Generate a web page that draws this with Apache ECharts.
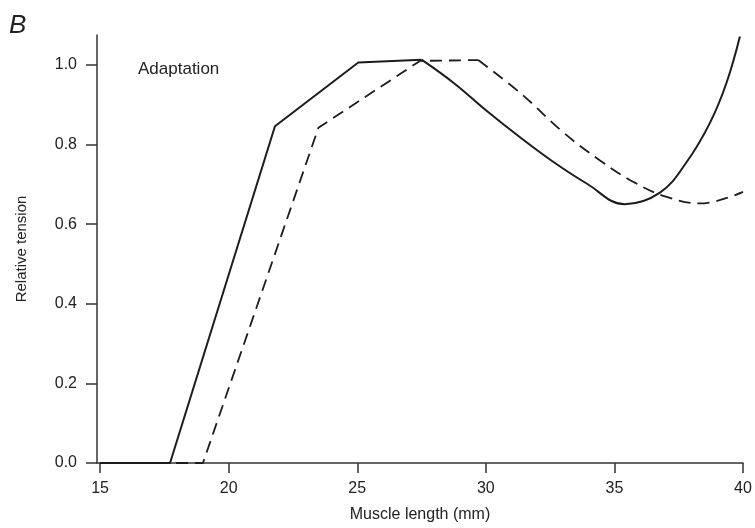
<!DOCTYPE html>
<html>
<head>
<meta charset="utf-8">
<script src="https://cdn.jsdelivr.net/npm/echarts@6/dist/echarts.min.js"></script>
<style>
  html, body { margin: 0; padding: 0; background: #fff; }
  #chart { width: 755px; height: 528px; }
</style>
</head>
<body>
<div id="chart"></div>
<script>
// tick labels
var xTicks = [15, 20, 25, 30, 35, 40];
var yTicks = [0, 0.2, 0.4, 0.6, 0.8, 1.0];

// solid curve: straight part then the curved part
var solidLine = [[15, 0], [17.72, 0], [21.8, 0.846], [25.04, 1.006], [27.5, 1.013]];
var solidCurve = [[27.5, 1.013], [28.74, 0.955], [30.04, 0.884], [31.33, 0.818], [32.63, 0.756],
  [33.92, 0.702], [35.4, 0.65], [36.77, 0.679], [37.81, 0.756], [38.72, 0.855],
  [39.36, 0.955], [39.88, 1.071]];

// dashed curve (adaptation)
var dashLine = [[15, 0], [19.0, 0], [23.49, 0.842], [27.44, 1.01], [29.7, 1.012]];
var dashCurve = [[29.7, 1.012], [31.33, 0.93], [33.02, 0.83], [34.44, 0.76], [35.74, 0.706],
  [37.0, 0.669], [38.33, 0.652], [40.0, 0.681]];

var ink = "#1c1c1c";
var font = "'Liberation Sans', Arial, sans-serif";

var myChart = echarts.init(document.getElementById("chart"));

function lineSeries(data, dashed, smooth) {
  return {
    type: "line",
    data: data,
    smooth: smooth ? 0.4 : false,
    symbol: "none",
    silent: true,
    lineStyle: {
      color: ink,
      width: dashed ? 1.8 : 2,
      type: dashed ? [12, 7] : "solid",
    },
  };
}

var option = {
  animation: false,
  backgroundColor: "#fff",
  grid: { left: 97, right: 12, top: 35, bottom: 61 },
  xAxis: {
    type: "value",
    min: 14.88,
    max: 40,
    name: "Muscle length (mm)",
    nameLocation: "middle",
    nameGap: 44,
    nameTextStyle: { color: "#222", fontSize: 16, fontFamily: font },
    axisLine: { lineStyle: { color: "#333", width: 1.5 } },
    axisTick: { customValues: xTicks, length: 10, lineStyle: { color: "#333", width: 1.5 } },
    axisLabel: { customValues: xTicks, color: "#222", fontSize: 16, fontFamily: font, margin: 18 },
    splitLine: { show: false },
  },
  yAxis: {
    type: "value",
    min: 0,
    max: 1.075,
    name: "Relative tension",
    nameLocation: "middle",
    nameGap: 68,
    nameTextStyle: { color: "#222", fontSize: 15, fontFamily: font },
    axisLine: { show: true, lineStyle: { color: "#333", width: 1.5 } },
    axisTick: { show: true, customValues: yTicks, length: 11, lineStyle: { color: "#333", width: 1.5 } },
    axisLabel: {
      customValues: yTicks,
      color: "#222",
      fontSize: 16,
      fontFamily: font,
      margin: 20,
      formatter: function (v) { return v.toFixed(1); },
    },
    splitLine: { show: false },
  },
  graphic: [
    {
      type: "text",
      left: 9,
      top: 13,
      style: { text: "B", fontSize: 26, fontStyle: "italic", fontFamily: font, fill: "#222" },
    },
    {
      type: "text",
      left: 138,
      top: 61,
      style: { text: "Adaptation", fontSize: 17, fontFamily: font, fill: "#222" },
    },
  ],
  series: [
    lineSeries(solidLine, false, false),
    lineSeries(solidCurve, false, true),
    lineSeries(dashLine, true, false),
    lineSeries(dashCurve, true, true),
  ],
};

myChart.setOption(option);
</script>
</body>
</html>
